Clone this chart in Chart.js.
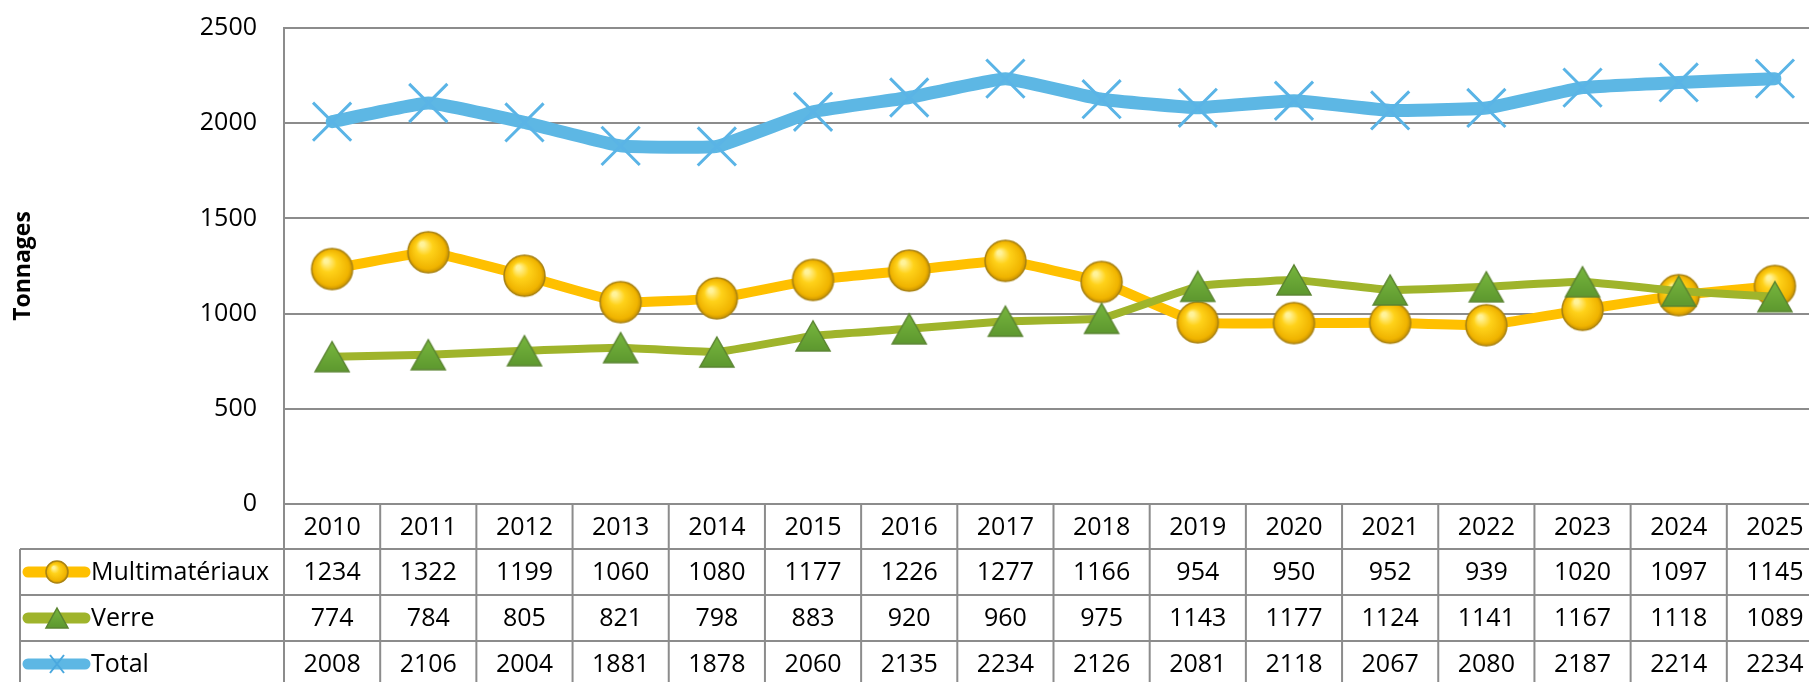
<!DOCTYPE html>
<html>
<head>
<meta charset="utf-8">
<script src="https://cdn.jsdelivr.net/npm/chart.js@4"></script>
<style>
	html, body { margin: 0; padding: 0; background: #fff; overflow: hidden; }
	#chart { display: block; }
</style>
</head>
<body>
<canvas id="chart" width="1840" height="682"></canvas>
<script>
var years = ["2010","2011","2012","2013","2014","2015","2016","2017","2018","2019","2020","2021","2022","2023","2024","2025"];
var multi = [1234, 1322, 1199, 1060, 1080, 1177, 1226, 1277, 1166, 954, 950, 952, 939, 1020, 1097, 1145];
var verre = [774, 784, 805, 821, 798, 883, 920, 960, 975, 1143, 1177, 1124, 1141, 1167, 1118, 1089];
var total = [2008, 2106, 2004, 1881, 1878, 2060, 2135, 2234, 2126, 2081, 2118, 2067, 2080, 2187, 2214, 2234];
var yTicks = [0, 500, 1000, 1500, 2000, 2500];

var FONT = '"Open Sans", "Noto Sans", sans-serif';
var GRID = '#8c8c8c';

// marker images
function ballImage(d) {
	var c = document.createElement('canvas');
	c.width = d + 4; c.height = d + 4;
	var g = c.getContext('2d'), r = d / 2, cx = r + 2, cy = r + 2;
	var grad = g.createRadialGradient(cx - r * 0.3, cy - r * 0.4, r * 0.1, cx, cy, r);
	grad.addColorStop(0, '#fff39a');
	grad.addColorStop(0.35, '#ffd21a');
	grad.addColorStop(0.85, '#f0b400');
	grad.addColorStop(1, '#c99200');
	g.beginPath();
	g.arc(cx, cy, r, 0, Math.PI * 2);
	g.fillStyle = grad;
	g.fill();
	g.lineWidth = 1.5;
	g.strokeStyle = '#a98313';
	g.stroke();
	return c;
}
function triImage(w, h) {
	var c = document.createElement('canvas');
	c.width = w + 4; c.height = h + 4;
	var g = c.getContext('2d');
	var grad = g.createLinearGradient(0, 0, 0, h);
	grad.addColorStop(0, '#79b83f');
	grad.addColorStop(1, '#5f9a30');
	g.beginPath();
	g.moveTo(w / 2 + 2, 2);
	g.lineTo(w + 2, h + 2);
	g.lineTo(2, h + 2);
	g.closePath();
	g.fillStyle = grad;
	g.fill();
	g.lineWidth = 1.5;
	g.strokeStyle = '#5a8430';
	g.stroke();
	return c;
}
var ball = ballImage(41), tri = triImage(34, 30);
var ballSmall = ballImage(22), triSmall = triImage(22, 20);

var series = [
	{ label: 'Multimatériaux', data: multi, color: '#ffc000', width: 10, small: ballSmall },
	{ label: 'Verre', data: verre, color: '#9fb42b', width: 8, small: triSmall },
	{ label: 'Total', data: total, color: '#5db7e4', width: 13, small: null }
];

var tablePlugin = {
	id: 'dataTable',
	afterDraw: function(chart) {
		var ctx = chart.ctx, x = chart.scales.x, area = chart.chartArea;
		var colW = x.getPixelForValue(1) - x.getPixelForValue(0);
		var left = area.left, right = left + colW * years.length;
		var top = area.bottom;
		var rows = [top, top + 45, top + 91, top + 137, top + 183];
		var legendLeft = 20;

		ctx.save();
		ctx.strokeStyle = GRID;
		ctx.lineWidth = 2;
		ctx.beginPath();
		for (var r = 1; r < rows.length; r++) {
			ctx.moveTo(legendLeft, rows[r]);
			ctx.lineTo(right, rows[r]);
		}
		for (var i = 0; i <= years.length; i++) {
			var px = left + colW * i;
			ctx.moveTo(px, rows[0]);
			ctx.lineTo(px, rows[4]);
		}
		ctx.moveTo(legendLeft, rows[1]);
		ctx.lineTo(legendLeft, rows[4]);
		ctx.stroke();

		ctx.fillStyle = '#000';
		ctx.font = '25px ' + FONT;
		ctx.textBaseline = 'middle';
		ctx.textAlign = 'center';
		years.forEach(function(y, i) {
			ctx.fillText(y, x.getPixelForValue(i), (rows[0] + rows[1]) / 2 + 1);
		});
		series.forEach(function(s, k) {
			var cy = (rows[k + 1] + rows[k + 2]) / 2 + 1;
			s.data.forEach(function(v, i) {
				ctx.fillText(String(v), x.getPixelForValue(i), cy);
			});
		});

		// legend keys
		ctx.textAlign = 'left';
		series.forEach(function(s, k) {
			var cy = (rows[k + 1] + rows[k + 2]) / 2;
			ctx.strokeStyle = s.color;
			ctx.lineWidth = 11;
			ctx.lineCap = 'round';
			ctx.beginPath();
			ctx.moveTo(28, cy);
			ctx.lineTo(85, cy);
			ctx.stroke();
			if (s.small) {
				ctx.drawImage(s.small, 57 - s.small.width / 2, cy - s.small.height / 2);
			} else {
				ctx.strokeStyle = '#4aa8de';
				ctx.lineWidth = 2;
				ctx.lineCap = 'butt';
				ctx.beginPath();
				ctx.moveTo(50, cy - 9); ctx.lineTo(64, cy + 9);
				ctx.moveTo(50, cy + 9); ctx.lineTo(64, cy - 9);
				ctx.stroke();
			}
			ctx.fillStyle = '#000';
			ctx.fillText(s.label, 91, cy + 1);
		});
		ctx.restore();
	}
};

var chart = new Chart('chart', {
	type: 'line',
	data: {
		labels: years,
		datasets: [{
			label: series[0].label,
			data: multi,
			borderColor: series[0].color,
			borderWidth: series[0].width,
			pointStyle: ball,
			pointRadius: 20,
			order: 3
		}, {
			label: series[1].label,
			data: verre,
			borderColor: series[1].color,
			borderWidth: series[1].width,
			pointStyle: tri,
			pointRadius: 16,
			order: 2
		}, {
			label: series[2].label,
			data: total,
			borderColor: series[2].color,
			borderWidth: series[2].width,
			pointStyle: 'crossRot',
			pointRadius: 27,
			pointBorderColor: '#5ab4e6',
			pointBorderWidth: 3,
			order: 1
		}]
	},
	options: {
		responsive: false,
		animation: false,
		events: [],
		datasets: {
			line: {
				tension: 0.1,
				borderJoinStyle: 'round',
				borderCapStyle: 'round',
				clip: false
			}
		},
		layout: { autoPadding: false, padding: { left: 0, right: 17, top: 28, bottom: 178 } },
		plugins: {
			legend: { display: false },
			tooltip: { enabled: false }
		},
		scales: {
			x: {
				display: false,
				offset: true
			},
			y: {
				min: 0,
				max: 2500,
				afterBuildTicks: function(scale) {
					scale.ticks = yTicks.map(function(v) { return { value: v }; });
				},
				afterFit: function(scale) {
					scale.width = 284;
					scale.paddingTop = 0;
					scale.paddingBottom = 0;
				},
				grid: { color: GRID, lineWidth: 2, drawTicks: false },
				border: { display: true, color: GRID, width: 2 },
				ticks: {
					padding: 27,
					color: '#000',
					font: { family: FONT, size: 25 },
					callback: function(v) { return String(v); }
				},
				title: {
					display: true,
					text: 'Tonnages',
					color: '#000',
					padding: { top: 10, bottom: 0 },
					font: { family: FONT, size: 23, weight: 'bold' }
				}
			}
		}
	},
	plugins: [tablePlugin]
});
</script>
</body>
</html>
